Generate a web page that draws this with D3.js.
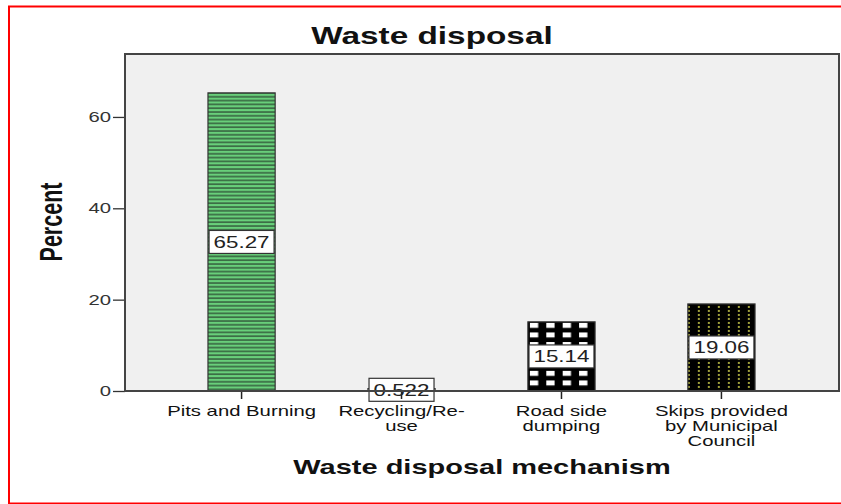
<!DOCTYPE html>
<html>
<head>
<meta charset="utf-8">
<script src="https://cdn.jsdelivr.net/npm/d3@7"></script>
<style>
  body { margin: 0; background: #fff; }
  svg text { font-family: "Liberation Sans", Arial, sans-serif; }
</style>
</head>
<body>
<svg width="841" height="504"></svg>
<script>
// Chart data
const categories = ["Pits and Burning", "Recycling/Re-\nuse", "Road side\ndumping", "Skips provided\nby Municipal\nCouncil"];
const percents = [65.27, 0.522, 15.14, 19.06];
const valueLabels = ["65.27", "0.522", "15.14", "19.06"];
const yTicks = [0, 20, 40, 60];

// the source picture is stretched sideways, so text gets a horizontal scale
const SX = 1.45;
const plot = {left: 124, right: 839, top: 53, bottom: 391};

const svg = d3.select("svg");

// Outer red frame
svg.append("rect")
   .attr("x", 9).attr("y", 6.5)
   .attr("width", 900).attr("height", 497)
   .attr("fill", "none")
   .attr("stroke", "#ff0000")
   .attr("stroke-width", 2);

const x = d3.scaleBand()
            .domain(categories)
            .range([plot.left, plot.right])
            .paddingInner(0.58)
            .paddingOuter(0.525);

const y = d3.scaleLinear()
            .domain([0, 74])
            .range([plot.bottom, plot.top]);

// Plot background
svg.append("rect")
   .attr("x", plot.left).attr("y", plot.top)
   .attr("width", plot.right - plot.left)
   .attr("height", plot.bottom - plot.top)
   .attr("fill", "#f0f0f0");

// Fill patterns, one per bar
const defs = svg.append("defs");
const barX = i => x(categories[i]);
const barTop = i => y(percents[i]);

const green = defs.append("pattern")
   .attr("id", "pat0").attr("patternUnits", "userSpaceOnUse")
   .attr("x", barX(0)).attr("y", barTop(0) + 1)
   .attr("width", 10).attr("height", 3.8);
green.append("rect").attr("width", 10).attr("height", 3.8).attr("fill", "#68cf7a");
green.append("rect").attr("y", 2.1).attr("width", 10).attr("height", 1.7).attr("fill", "#3b6b45");

const checks = defs.append("pattern")
   .attr("id", "pat2").attr("patternUnits", "userSpaceOnUse")
   .attr("x", barX(2) + 2).attr("y", barTop(2) + 1)
   .attr("width", 16.4).attr("height", 9.6);
checks.append("rect").attr("width", 16.4).attr("height", 9.6).attr("fill", "#000");
checks.append("rect").attr("width", 8.3).attr("height", 5).attr("fill", "#fff");

const dots = defs.append("pattern")
   .attr("id", "pat3").attr("patternUnits", "userSpaceOnUse")
   .attr("x", barX(3) + 10).attr("y", barTop(3) + 2)
   .attr("width", 10).attr("height", 4);
dots.append("rect").attr("width", 10).attr("height", 4).attr("fill", "#000");
dots.append("rect").attr("width", 2).attr("height", 2).attr("fill", "#a3a33c");

const fills = ["url(#pat0)", "#ffffff", "url(#pat2)", "url(#pat3)"];

// Bars
svg.selectAll(".bar")
   .data(percents)
   .enter()
   .append("rect")
   .attr("class", "bar")
   .attr("x", (d, i) => x(categories[i]))
   .attr("y", d => y(d))
   .attr("width", x.bandwidth())
   .attr("height", d => y(0) - y(d))
   .attr("fill", (d, i) => fills[i])
   .attr("stroke", "#333")
   .attr("stroke-width", 1.2);

// Value label boxes in the middle of each bar
const lab = svg.selectAll(".val")
   .data(percents)
   .enter()
   .append("g")
   .attr("class", "val")
   .attr("transform", (d, i) => `translate(${x(categories[i]) + x.bandwidth() / 2},${(y(d) + y(0)) / 2})`);

lab.append("rect")
   .attr("x", -32.5).attr("y", -11.5)
   .attr("width", 65).attr("height", 23)
   .attr("fill", "#fff")
   .attr("stroke", "#333")
   .attr("stroke-width", 1.2);

lab.append("text")
   .attr("transform", `scale(${SX * 0.965},1)`)
   .attr("text-anchor", "middle")
   .attr("dy", "0.36em")
   .style("font-size", "16px")
   .attr("fill", "#222")
   .text((d, i) => valueLabels[i]);

// Y axis
const yAxis = svg.append("g")
   .attr("transform", `translate(${plot.left + 1},0)`)
   .call(d3.axisLeft(y).tickValues(yTicks).tickSize(12).tickSizeOuter(0));
yAxis.select(".domain").remove();
yAxis.selectAll(".tick line").attr("stroke", "#333").attr("stroke-width", 1.3);
yAxis.selectAll(".tick text")
   .attr("x", -14 / SX)
   .attr("transform", `scale(${SX},1)`)
   .style("font-size", "14px")
   .attr("fill", "#333")
   .attr("font-family", null);

// X axis with wrapped category names
const xAxis = svg.append("g")
   .attr("transform", `translate(0,${plot.bottom})`)
   .call(d3.axisBottom(x).tickSize(8).tickSizeOuter(0));
xAxis.select(".domain").remove();
xAxis.selectAll(".tick line").attr("stroke", "#222").attr("stroke-width", 1.5);
xAxis.selectAll(".tick text").each(function(d) {
    const t = d3.select(this);
    t.text(null)
     .attr("y", 25).attr("dy", null)
     .attr("transform", `scale(${SX},1)`)
     .style("font-size", "14px")
     .attr("fill", "#111")
     .attr("font-family", null);
    d.split("\n").forEach((line, k) => {
        t.append("tspan").attr("x", 0).attr("y", 25 + k * 15).text(line);
    });
});

// Plot frame drawn last so the axis line sits on top
svg.append("rect")
   .attr("x", plot.left + 1).attr("y", plot.top + 1)
   .attr("width", plot.right - plot.left - 1)
   .attr("height", plot.bottom - plot.top - 1)
   .attr("fill", "none")
   .attr("stroke", "#444")
   .attr("stroke-width", 2);

// Titles
svg.append("text")
   .attr("transform", `translate(432,44) scale(${SX},1)`)
   .attr("text-anchor", "middle")
   .style("font-size", "23px")
   .style("font-weight", "bold")
   .attr("fill", "#111")
   .text("Waste disposal");

svg.append("text")
   .attr("transform", `translate(482,474) scale(${SX},1)`)
   .attr("text-anchor", "middle")
   .style("font-size", "20px")
   .style("font-weight", "bold")
   .attr("fill", "#111")
   .text("Waste disposal mechanism");

svg.append("text")
   .attr("transform", `translate(62,222) scale(${SX},1) rotate(-90)`)
   .attr("text-anchor", "middle")
   .style("font-size", "21.5px")
   .style("font-weight", "bold")
   .attr("fill", "#111")
   .text("Percent");
</script>
</body>
</html>
